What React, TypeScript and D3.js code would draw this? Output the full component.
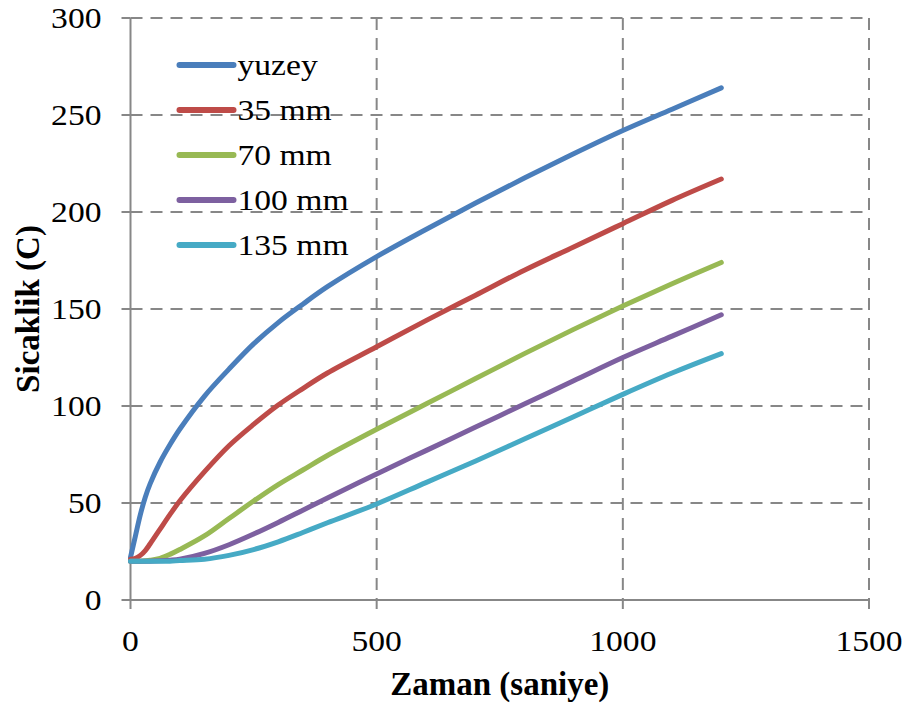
import React, { useEffect, useRef } from 'react';
import * as d3 from 'd3';

// time in seconds
const times = [0, 10, 20, 30, 40, 60, 80, 100, 150, 200, 250, 300, 350, 400, 500, 600, 700, 800, 900, 1000, 1100, 1200];

// temperatures (C) for each depth, one value per time
const yuzey = [22, 33, 44, 53, 60, 71, 80, 88, 105, 119, 132, 143, 152.5, 161.5, 177, 191, 204.5, 217.5, 230, 242, 253, 264];
const mm35 = [21, 21.5, 23, 25.5, 29, 36.5, 44, 51, 66, 79.5, 90.5, 100.5, 109, 117, 130.5, 144, 157, 170, 182, 194, 206, 217];
const mm70 = [20, 20, 20, 20.2, 20.5, 21.5, 23.5, 26, 33, 42, 51, 59.5, 67, 74.5, 88, 101, 114, 127, 139.5, 151.5, 163, 174];
const mm100 = [20, 20, 20, 20, 20, 20.2, 20.5, 21, 24, 28.5, 34, 40, 46.3, 52.6, 65, 77, 89, 101, 113, 125, 136, 147];
const mm135 = [20, 20, 20, 20, 20, 20, 20, 20.3, 21, 23, 26, 30, 34.8, 39.8, 49.5, 60.5, 71.5, 83, 94.5, 106, 117, 127];

const seriesNames = ['yuzey', '35 mm', '70 mm', '100 mm', '135 mm'];
const seriesValues = [yuzey, mm35, mm70, mm100, mm135];
const seriesColors = ['#4a7ebb', '#be4b48', '#98b954', '#7d60a0', '#46aac5'];

const xTicks = [0, 500, 1000, 1500];
const yTicks = [0, 50, 100, 150, 200, 250, 300];

const App = () => {
  const ref = useRef<SVGSVGElement>(null);

  useEffect(() => {
    const width = 907;
    const height = 704;
    const margin = { top: 18, right: 38, bottom: 104, left: 130.5 };
    const w = width - margin.left - margin.right;
    const h = height - margin.top - margin.bottom;

    const root = d3.select(ref.current);
    root.selectAll('*').remove();
    const svg = root.append('g').attr('transform', `translate(${margin.left},${margin.top})`);

    const x = d3.scaleLinear().domain([0, 1500]).range([0, w]);
    const y = d3.scaleLinear().domain([0, 300]).range([h, 0]);

    const gridColor = '#878787';
    const font = "'Liberation Serif', Tinos, 'Times New Roman', Times, serif";

    // dashed gridlines
    svg.selectAll('.hgrid')
      .data(yTicks.filter(d => d > 0))
      .enter().append('line')
      .attr('x1', 0).attr('x2', w)
      .attr('y1', d => y(d)).attr('y2', d => y(d))
      .attr('stroke', gridColor).attr('stroke-width', 2)
      .attr('stroke-dasharray', '12,8');

    svg.selectAll('.vgrid')
      .data(xTicks.filter(d => d > 0))
      .enter().append('line')
      .attr('x1', d => x(d)).attr('x2', d => x(d))
      .attr('y1', 0).attr('y2', h)
      .attr('stroke', gridColor).attr('stroke-width', 2)
      .attr('stroke-dasharray', '12,8');

    // axis lines
    svg.append('line').attr('x1', 0).attr('x2', 0).attr('y1', 0).attr('y2', h)
      .attr('stroke', gridColor).attr('stroke-width', 2);
    svg.append('line').attr('x1', 0).attr('x2', w).attr('y1', h).attr('y2', h)
      .attr('stroke', gridColor).attr('stroke-width', 2);

    // tick marks
    svg.selectAll('.ytick')
      .data(yTicks)
      .enter().append('line')
      .attr('x1', -9).attr('x2', 0)
      .attr('y1', d => y(d)).attr('y2', d => y(d))
      .attr('stroke', gridColor).attr('stroke-width', 2);
    svg.selectAll('.xtick')
      .data(xTicks)
      .enter().append('line')
      .attr('x1', d => x(d)).attr('x2', d => x(d))
      .attr('y1', h).attr('y2', h + 9)
      .attr('stroke', gridColor).attr('stroke-width', 2);

    // tick labels
    svg.selectAll('.ylab')
      .data(yTicks)
      .enter().append('text')
      .attr('transform', d => `translate(-29,${y(d) + 10}) scale(1.12,1)`)
      .attr('text-anchor', 'end')
      .style('font-family', font).style('font-size', '30px')
      .text(d => d);
    svg.selectAll('.xlab')
      .data(xTicks)
      .enter().append('text')
      .attr('transform', d => `translate(${x(d)},${h + 51}) scale(1.12,1)`)
      .attr('text-anchor', 'middle')
      .style('font-family', font).style('font-size', '30px')
      .text(d => d);

    // axis titles
    svg.append('text')
      .attr('x', w / 2).attr('y', h + 95)
      .attr('text-anchor', 'middle')
      .style('font-family', font).style('font-size', '33px').style('font-weight', 'bold')
      .text('Zaman (saniye)');
    svg.append('text')
      .attr('transform', `translate(${-92},${h / 2}) rotate(-90)`)
      .attr('text-anchor', 'middle')
      .style('font-family', font).style('font-size', '33px').style('font-weight', 'bold')
      .text('Sicaklik (C)');

    // curves
    const line = d3.line<number>()
      .x((_, i) => x(times[i]))
      .y(d => y(d))
      .curve(d3.curveCatmullRom.alpha(0.5));

    svg.selectAll('.series')
      .data(seriesValues)
      .enter().append('path')
      .attr('d', d => line(d))
      .attr('fill', 'none')
      .attr('stroke', (_, i) => seriesColors[i])
      .attr('stroke-width', 5)
      .attr('stroke-linecap', 'round')
      .attr('stroke-linejoin', 'round');

    // legend
    const legend = svg.append('g').attr('transform', 'translate(49,47)');
    const items = legend.selectAll('.item')
      .data(seriesNames)
      .enter().append('g')
      .attr('transform', (_, i) => `translate(0,${i * 45})`);
    items.append('line')
      .attr('x1', 0).attr('x2', 54)
      .attr('stroke', (_, i) => seriesColors[i])
      .attr('stroke-width', 6)
      .attr('stroke-linecap', 'round');
    items.append('text')
      .attr('transform', 'translate(58,10) scale(1.12,1)')
      .style('font-family', font).style('font-size', '30px')
      .text(d => d);
  }, []);

  return (
    <svg ref={ref} width={907} height={704}
      style={{ position: 'absolute', left: 0, top: 0, background: '#fff' }} />
  );
};

export default App;
